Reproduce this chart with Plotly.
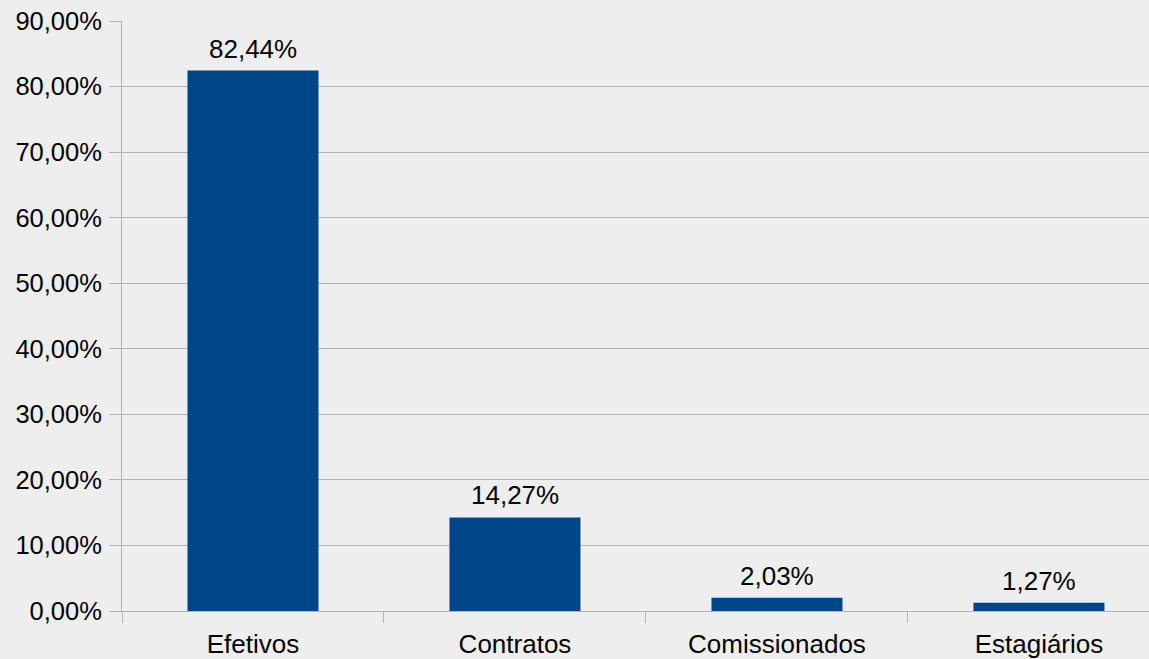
import plotly.graph_objects as go

# Distribution of staff by type of bond
categories = ['Efetivos', 'Contratos', 'Comissionados', 'Estagiários']
shares = [82.44, 14.27, 2.03, 1.27]
y_ticks = [0, 10, 20, 30, 40, 50, 60, 70, 80, 90]

BAR_COLOR = '#004586'
BG = '#eeeeee'
GRID = '#b3b3b3'
FONT = 'Liberation Sans, Arial, sans-serif'


def pt_br(v):
    return f'{v:.2f}'.replace('.', ',') + '%'


fig = go.Figure(go.Bar(
    x=categories,
    y=shares,
    marker=dict(color=BAR_COLOR, line=dict(width=0)),
    width=0.5,
))

# value labels above the bars
for cat, val in zip(categories, shares):
    fig.add_annotation(
        x=cat, y=val, text=pt_br(val),
        showarrow=False, yanchor='bottom', yshift=5,
        font=dict(size=26, color='#000000'),
    )

fig.update_layout(
    width=1149,
    height=659,
    margin=dict(l=122, r=0, t=21, b=48),
    paper_bgcolor=BG,
    plot_bgcolor=BG,
    font=dict(family=FONT, size=26, color='#000000'),
    showlegend=False,
)

fig.update_xaxes(
    range=[-0.5, 3.42],
    showgrid=False,
    showline=True,
    linecolor=GRID,
    linewidth=1,
    ticks='outside',
    tickson='boundaries',
    ticklen=11,
    tickcolor=GRID,
    tickfont=dict(size=26),
    ticklabelstandoff=10,
)

fig.update_yaxes(
    range=[0, 90],
    tickvals=y_ticks,
    ticktext=[pt_br(v) for v in y_ticks],
    showgrid=True,
    gridcolor=GRID,
    gridwidth=1,
    showline=True,
    linecolor=GRID,
    linewidth=1,
    ticks='outside',
    ticklen=12,
    tickcolor=GRID,
    tickfont=dict(size=25.5),
    ticklabelstandoff=2,
    zeroline=False,
)

fig.write_html(
    'out.html',
    config={'displayModeBar': False},
    post_script="document.body.style.margin='0';",
)
